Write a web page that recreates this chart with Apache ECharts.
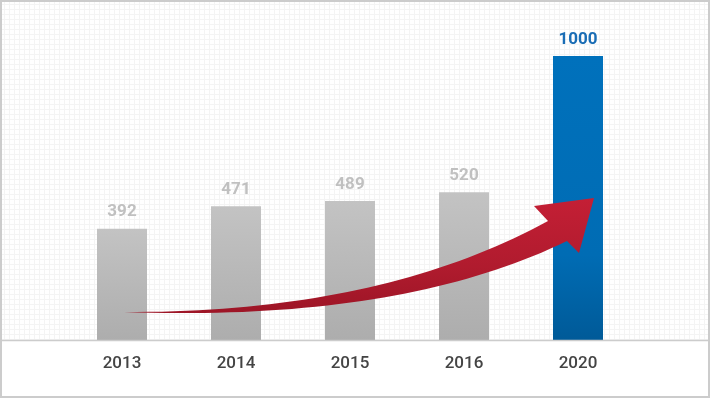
<!DOCTYPE html>
<html>
<head>
<meta charset="utf-8">
<script src="https://cdn.jsdelivr.net/npm/echarts@6/dist/echarts.min.js"></script>
<style>
  html, body { margin: 0; padding: 0; background: #fff; }
  #main { width: 710px; height: 398px; }
</style>
</head>
<body>
<div id="main"></div>
<script>
var years = ['2013', '2014', '2015', '2016', '2020'];
var values = [392, 471, 489, 520, 1000];
var highlightYear = '2020';

var myChart = echarts.init(document.getElementById('main'));

// small tile for the graph-paper background
var tile = document.createElement('canvas');
tile.width = 5;
tile.height = 5;
var tctx = tile.getContext('2d');
tctx.fillStyle = '#ffffff';
tctx.fillRect(0, 0, 5, 5);
tctx.fillStyle = '#f4f4f4';
tctx.fillRect(0, 4, 5, 1);
tctx.fillRect(4, 0, 1, 5);

function vGrad(stops) {
    return {
        type: 'linear', x: 0, y: 0, x2: 0, y2: 1,
        colorStops: stops.map(function (s) { return { offset: s[0], color: s[1] }; })
    };
}

// sample a quadratic curve for the arrow outline
function quad(p0, c, p1, n) {
    var pts = [];
    for (var i = 0; i <= n; i++) {
        var t = i / n, u = 1 - t;
        pts.push([u * u * p0[0] + 2 * t * u * c[0] + t * t * p1[0],
                  u * u * p0[1] + 2 * t * u * c[1] + t * t * p1[1]]);
    }
    return pts;
}

var arrowPts = quad([124, 312], [380, 313], [548, 221], 40)
    .concat([[534, 206], [594, 198], [579, 253]])
    .concat(quad([567, 241], [400, 322], [124, 312], 40));

var grayBar = vGrad([[0, '#c3c3c3'], [1, '#adadad']]);
var blueBar = vGrad([[0, '#0071bc'], [0.7, '#006cb4'], [1, '#005a98']]);

var barData = values.map(function (v, i) {
    var hot = years[i] === highlightYear;
    return {
        value: v,
        itemStyle: { color: hot ? blueBar : grayBar },
        label: { color: hot ? '#1a6db5' : '#c0c0c0' }
    };
});

var option = {
    animation: false,
    backgroundColor: '#ffffff',
    grid: { left: 65, right: 75, top: 56, bottom: 58 },
    xAxis: {
        type: 'category',
        data: years,
        axisLine: { show: false },
        axisTick: { show: false },
        axisLabel: {
            color: '#444444',
            fontSize: 17,
            fontWeight: 500,
            fontFamily: 'Roboto',
            margin: 15
        }
    },
    yAxis: {
        type: 'value',
        min: 0,
        max: 1000,
        show: false,
        splitLine: { show: false }
    },
    series: [
        {
            type: 'bar',
            barWidth: 50,
            data: barData,
            label: {
                show: true,
                position: 'top',
                distance: 8,
                fontSize: 17,
                fontWeight: 'bold',
                fontFamily: 'Roboto'
            }
        }
    ],
    graphic: [
        {
            type: 'rect',
            z: -10,
            silent: true,
            shape: { x: 0, y: 0, width: 710, height: 340 },
            style: { fill: { image: tile, repeat: 'repeat' } }
        },
        {
            type: 'line',
            z: 50,
            silent: true,
            shape: { x1: 0, y1: 340.5, x2: 710, y2: 340.5 },
            style: { stroke: '#cccccc', lineWidth: 1.5 }
        },
        {
            type: 'polygon',
            z: 100,
            silent: true,
            shape: { points: arrowPts },
            style: {
                fill: vGrad([[0, '#c41f35'], [0.6, '#b01b2e'], [1, '#9d1526']])
            }
        },
        {
            type: 'rect',
            z: 120,
            silent: true,
            shape: { x: 1, y: 1, width: 708, height: 396 },
            style: { fill: null, stroke: '#cccccc', lineWidth: 2 }
        }
    ]
};

myChart.setOption(option);
</script>
</body>
</html>
